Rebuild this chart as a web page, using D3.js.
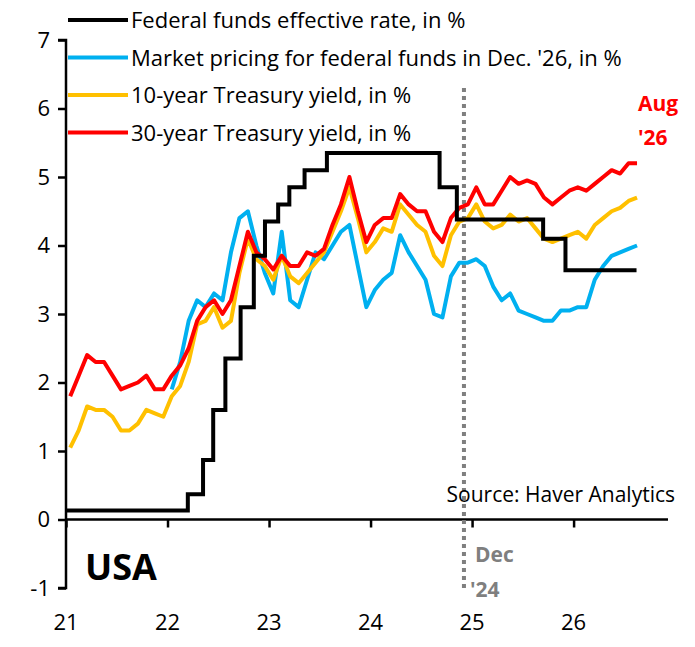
<!DOCTYPE html>
<html><head><meta charset="utf-8">
<script src="https://cdn.jsdelivr.net/npm/d3@7"></script>
<style>body{margin:0;background:#fff}text{font-family:"Open Sans","Liberation Sans",sans-serif}</style>
</head><body><svg id="c" width="695" height="647"></svg>
<script>
const yTicks=[-1,0,1,2,3,4,5,6,7];
const xTicks=[21,22,23,24,25,26];
const y30=[1.8,2.1,2.4,2.3,2.3,2.1,1.9,1.95,2.0,2.1,1.9,1.9,2.1,2.25,2.5,2.9,3.1,3.2,3.0,3.2,3.7,4.2,3.9,3.8,3.65,3.85,3.7,3.7,3.9,3.85,3.95,4.3,4.6,5.0,4.5,4.05,4.3,4.4,4.4,4.75,4.6,4.5,4.5,4.2,4.05,4.4,4.55,4.6,4.85,4.6,4.6,4.8,5.0,4.9,4.95,4.9,4.7,4.6,4.7,4.8,4.85,4.8,4.9,5.0,5.1,5.05,5.2,5.2];
const y10=[1.05,1.3,1.65,1.6,1.6,1.5,1.3,1.3,1.4,1.6,1.55,1.5,1.8,1.95,2.3,2.85,2.9,3.1,2.8,2.9,3.6,4.1,3.8,3.7,3.5,3.85,3.55,3.45,3.6,3.75,3.9,4.2,4.5,4.85,4.4,3.9,4.05,4.25,4.2,4.6,4.45,4.3,4.2,3.85,3.7,4.15,4.35,4.4,4.6,4.35,4.25,4.3,4.45,4.35,4.4,4.25,4.1,4.05,4.1,4.15,4.2,4.1,4.3,4.4,4.5,4.55,4.65,4.7];
const mkt=[1.9,2.3,2.9,3.2,3.1,3.3,3.2,3.9,4.4,4.5,4.0,3.6,3.3,4.2,3.2,3.1,3.5,3.9,3.8,4.0,4.2,4.3,3.7,3.1,3.35,3.5,3.6,4.15,3.9,3.7,3.5,3.0,2.95,3.55,3.75,3.75,3.8,3.7,3.4,3.2,3.3,3.05,3.0,2.95,2.9,2.9,3.05,3.05,3.1,3.1,3.5,3.7,3.85,3.9,3.95,4.0];
const ffT=[21.0,22.2,22.35,22.45,22.57,22.72,22.85,22.96,23.09,23.2,23.35,23.57,24.68,24.85,25.7,25.92,26.62];
const ffV=[0.13,0.37,0.87,1.6,2.35,3.1,3.85,4.35,4.6,4.85,5.1,5.35,4.85,4.38,4.1,3.64,3.64];
const legend=["Federal funds effective rate, in %","Market pricing for federal funds in Dec. '26, in %","10-year Treasury yield, in %","30-year Treasury yield, in %"];
const colors=["#000000","#00B0F0","#FFC000","#FF0000"];

const svg=d3.select("#c");
const x=d3.scaleLinear().domain([21,26.93]).range([66,668]);
const y=d3.scaleLinear().domain([-1,7]).range([588,40]);
const mt=(i,start)=>start+i/12+1/24;

svg.append("g").attr("transform","translate(66,0)")
 .call(d3.axisLeft(y).tickValues(yTicks).tickSize(8).tickFormat(d=>String(d)))
 .call(g=>{g.select(".domain").attr("stroke-width",2.5).attr("d","M-8,588H0V40H-8");g.selectAll(".tick line").attr("stroke-width",2.5);g.selectAll("text").attr("font-size",22).attr("x",-16).attr("fill","#000")});
svg.append("g").attr("transform",`translate(0,${y(0)})`)
 .call(d3.axisBottom(x).tickValues(xTicks).tickSize(8).tickFormat(()=>""))
 .call(g=>{g.select(".domain").attr("stroke-width",2.5).attr("d",`M66,0H${x(26.93)}`);g.selectAll(".tick line").attr("stroke-width",2.5)});
svg.append("g").selectAll("text").data(xTicks).join("text")
 .attr("x",d=>x(d)).attr("y",630).attr("text-anchor","middle").attr("font-size",22).text(d=>d);

svg.append("line").attr("x1",x(24.92)).attr("x2",x(24.92)).attr("y1",88).attr("y2",592)
 .attr("stroke","#7f7f7f").attr("stroke-width",4).attr("stroke-dasharray","4,4");

const line=d3.line().x(d=>x(d[0])).y(d=>y(d[1]));
svg.append("path").datum(mkt.map((v,i)=>[mt(i,22),v])).attr("d",line).attr("fill","none").attr("stroke",colors[1]).attr("stroke-width",4).attr("stroke-linejoin","round");
svg.append("path").datum(y10.map((v,i)=>[mt(i,21),v])).attr("d",line).attr("fill","none").attr("stroke",colors[2]).attr("stroke-width",4).attr("stroke-linejoin","round");
svg.append("path").datum(y30.map((v,i)=>[mt(i,21),v])).attr("d",line).attr("fill","none").attr("stroke",colors[3]).attr("stroke-width",4).attr("stroke-linejoin","round");
svg.append("path").datum(ffT.map((t,i)=>[t,ffV[i]])).attr("d",d3.line().x(d=>x(d[0])).y(d=>y(d[1])).curve(d3.curveStepAfter))
 .attr("fill","none").attr("stroke","#000").attr("stroke-width",4);

const lg=svg.append("g");
legend.forEach((t,i)=>{
 const yy=20+i*37.5;
 lg.append("line").attr("x1",68).attr("x2",128).attr("y1",yy).attr("y2",yy).attr("stroke",colors[i]).attr("stroke-width",4);
 lg.append("text").attr("x",131).attr("y",yy+8).attr("font-size",22).text(t);
});
svg.append("text").attr("x",675).attr("y",502).attr("text-anchor","end").attr("font-size",21).text("Source: Haver Analytics");
svg.append("text").attr("x",85).attr("y",580).attr("font-size",36).attr("font-weight","bold").text("USA");
svg.append("text").attr("x",475).attr("y",562).attr("font-size",21).attr("font-weight","bold").attr("fill","#7f7f7f").text("Dec");
svg.append("text").attr("x",470).attr("y",597).attr("font-size",21).attr("font-weight","bold").attr("fill","#7f7f7f").text("'24");
svg.append("text").attr("x",638).attr("y",111).attr("font-size",21).attr("font-weight","bold").attr("fill","#FF0000").text("Aug");
svg.append("text").attr("x",638).attr("y",145).attr("font-size",21).attr("font-weight","bold").attr("fill","#FF0000").text("'26");
</script></body></html>
